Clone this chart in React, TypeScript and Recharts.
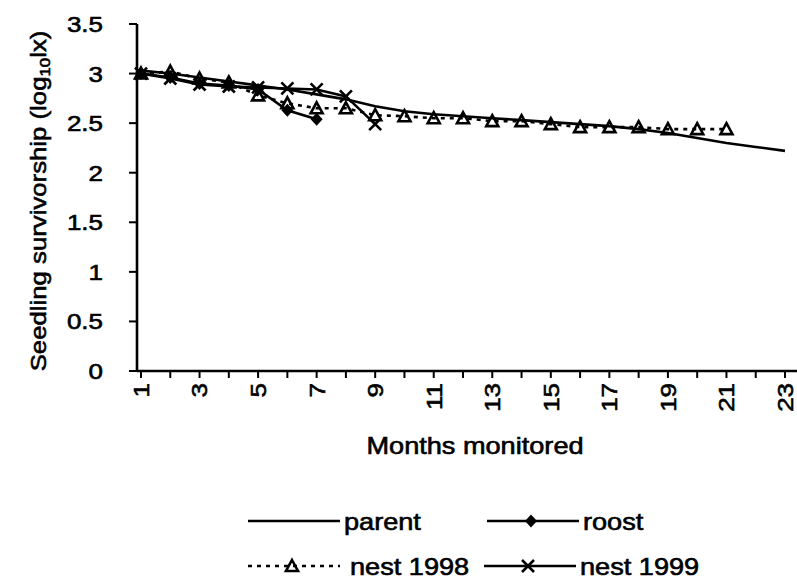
import React from "react";
import { LineChart, Line, XAxis, YAxis, Label } from "recharts";

// months on the category axis
const months = [1, 2, 3, 4, 5, 6, 7, 8, 9, 10, 11, 12, 13, 14, 15, 16, 17, 18, 19, 20, 21, 22, 23];

// seedling survivorship (log10 lx)
const parent = [3.03, 3.0, 2.96, 2.92, 2.88, 2.84, 2.79, 2.74, 2.67, 2.62, 2.59, 2.57, 2.55, 2.53, 2.51, 2.49, 2.47, 2.44, 2.4, 2.35, 2.3, 2.26, 2.22];
const roost = [3.0, 2.96, 2.9, 2.88, 2.84, 2.63, 2.54];
const nest1998 = [3.0, 3.02, 2.95, 2.91, 2.78, 2.7, 2.65, 2.65, 2.58, 2.57, 2.55, 2.55, 2.52, 2.52, 2.49, 2.46, 2.46, 2.46, 2.44, 2.44, 2.44];
const nest1999 = [3.0, 2.95, 2.89, 2.87, 2.86, 2.85, 2.84, 2.77, 2.49];

const yTicks = [0, 0.5, 1, 1.5, 2, 2.5, 3, 3.5];

const FONT = "'Liberation Sans', Arial, sans-serif";
const STRETCH = 1.18;
const INK = { fill: "#000", stroke: "#000", strokeWidth: 0.6 };

const data = months.map((m, i) => ({
  month: m,
  parent: parent[i] ?? null,
  roost: roost[i] ?? null,
  nest1998: nest1998[i] ?? null,
  nest1999: nest1999[i] ?? null,
}));

const diamond = (cx: number, cy: number, key?: any) => (
  <path key={key} d={`M${cx},${cy - 6.5}L${cx + 6},${cy}L${cx},${cy + 6.5}L${cx - 6},${cy}Z`} fill="#000" />
);
const triangle = (cx: number, cy: number, key?: any) => (
  <path key={key} d={`M${cx},${cy - 6}L${cx + 6},${cy + 5}L${cx - 6},${cy + 5}Z`} fill="none" stroke="#000" strokeWidth={2.6} />
);
const cross = (cx: number, cy: number, key?: any) => (
  <path key={key} d={`M${cx - 6},${cy - 6}L${cx + 6},${cy + 6}M${cx + 6},${cy - 6}L${cx - 6},${cy + 6}`} stroke="#000" strokeWidth={2.6} fill="none" />
);

const dotFrom = (marker: any) => (props: any) => {
  const { cx, cy, index } = props;
  if (cx == null || cy == null || props.value == null) return <g key={`d${index}`} />;
  return marker(cx, cy, `d${index}`);
};

const series = [
  { key: "parent", name: "parent", dash: undefined, marker: null },
  { key: "roost", name: "roost", dash: undefined, marker: diamond },
  { key: "nest1998", name: "nest 1998", dash: "4 5", marker: triangle },
  { key: "nest1999", name: "nest 1999", dash: undefined, marker: cross },
];

const YTick = (props: any) => {
  const { x, y, payload } = props;
  return (
    <text transform={`translate(${x},${y}) scale(${STRETCH},1)`} textAnchor="end" dy="0.36em" fontFamily={FONT} fontSize={22} {...INK}>
      {payload.value}
    </text>
  );
};

const XTick = (props: any) => {
  const { x, y, payload } = props;
  if (payload.value % 2 === 0) return <g />;
  return (
    <text transform={`translate(${x},${y}) rotate(-90) scale(${STRETCH},1)`} textAnchor="end" dy="0.36em" fontFamily={FONT} fontSize={22} {...INK}>
      {payload.value}
    </text>
  );
};

const legendPos = [
  { x: 248, y: 521 },
  { x: 487, y: 521 },
  { x: 248, y: 566 },
  { x: 484, y: 566 },
];

const LegendSvg = () => (
  <svg width={797} height={583} style={{ position: "absolute", left: 0, top: 0, pointerEvents: "none" }}>
    {series.map((s, i) => {
      const p = legendPos[i];
      const mid = p.x + 44;
      return (
        <g key={s.key}>
          <line x1={p.x} y1={p.y} x2={p.x + 92} y2={p.y} stroke="#000" strokeWidth={2.6} strokeDasharray={s.dash} />
          {s.marker ? s.marker(mid, p.y) : null}
          <text
            transform={`translate(${p.x + (s.dash ? 102 : 96)},${p.y + 9}) scale(${STRETCH},1)`}
            fontFamily={FONT}
            fontSize={23}
            {...INK}
          >
            {s.name}
          </text>
        </g>
      );
    })}
  </svg>
);

export default function App() {
  return (
    <div style={{ position: "absolute", left: 0, top: 0, width: 797, height: 583, background: "#fff" }}>
      <LineChart width={797} height={583} data={data} margin={{ top: 24, right: 0, bottom: 0, left: 0 }}>
        <XAxis
          dataKey="month"
          type="number"
          domain={[1, 23]}
          ticks={months}
          interval={0}
          padding={{ left: 4, right: 12 }}
          height={212}
          axisLine={{ stroke: "#000", strokeWidth: 2.6 }}
          tickLine={{ stroke: "#000", strokeWidth: 2 }}
          tickSize={7}
          tickMargin={5}
          tick={<XTick />}
        >
          <Label
            content={() => (
              <text transform={`translate(475,454) scale(${STRETCH},1)`} textAnchor="middle" fontFamily={FONT} fontSize={23} {...INK}>
                Months monitored
              </text>
            )}
          />
        </XAxis>
        <YAxis
          type="number"
          domain={[0, 3.5]}
          ticks={yTicks}
          width={137}
          axisLine={{ stroke: "#000", strokeWidth: 2.6 }}
          tickLine={{ stroke: "#000", strokeWidth: 2 }}
          tickSize={8}
          tickMargin={26}
          tick={<YTick />}
        >
          <Label
            content={() => (
              <text transform={`translate(46,201) rotate(-90) scale(1.12,1)`} textAnchor="middle" fontFamily={FONT} fontSize={23} {...INK}>
                Seedling survivorship (log
                <tspan fontSize={15} dy={4}>10</tspan>
                <tspan dy={-4}>lx)</tspan>
              </text>
            )}
          />
        </YAxis>
        {series.map((s) => (
          <Line
            key={s.key}
            dataKey={s.key}
            name={s.name}
            stroke="#000"
            strokeWidth={2.6}
            strokeDasharray={s.dash}
            dot={s.marker ? dotFrom(s.marker) : false}
            activeDot={false}
            isAnimationActive={false}
            type="linear"
          />
        ))}
      </LineChart>
      <LegendSvg />
    </div>
  );
}
